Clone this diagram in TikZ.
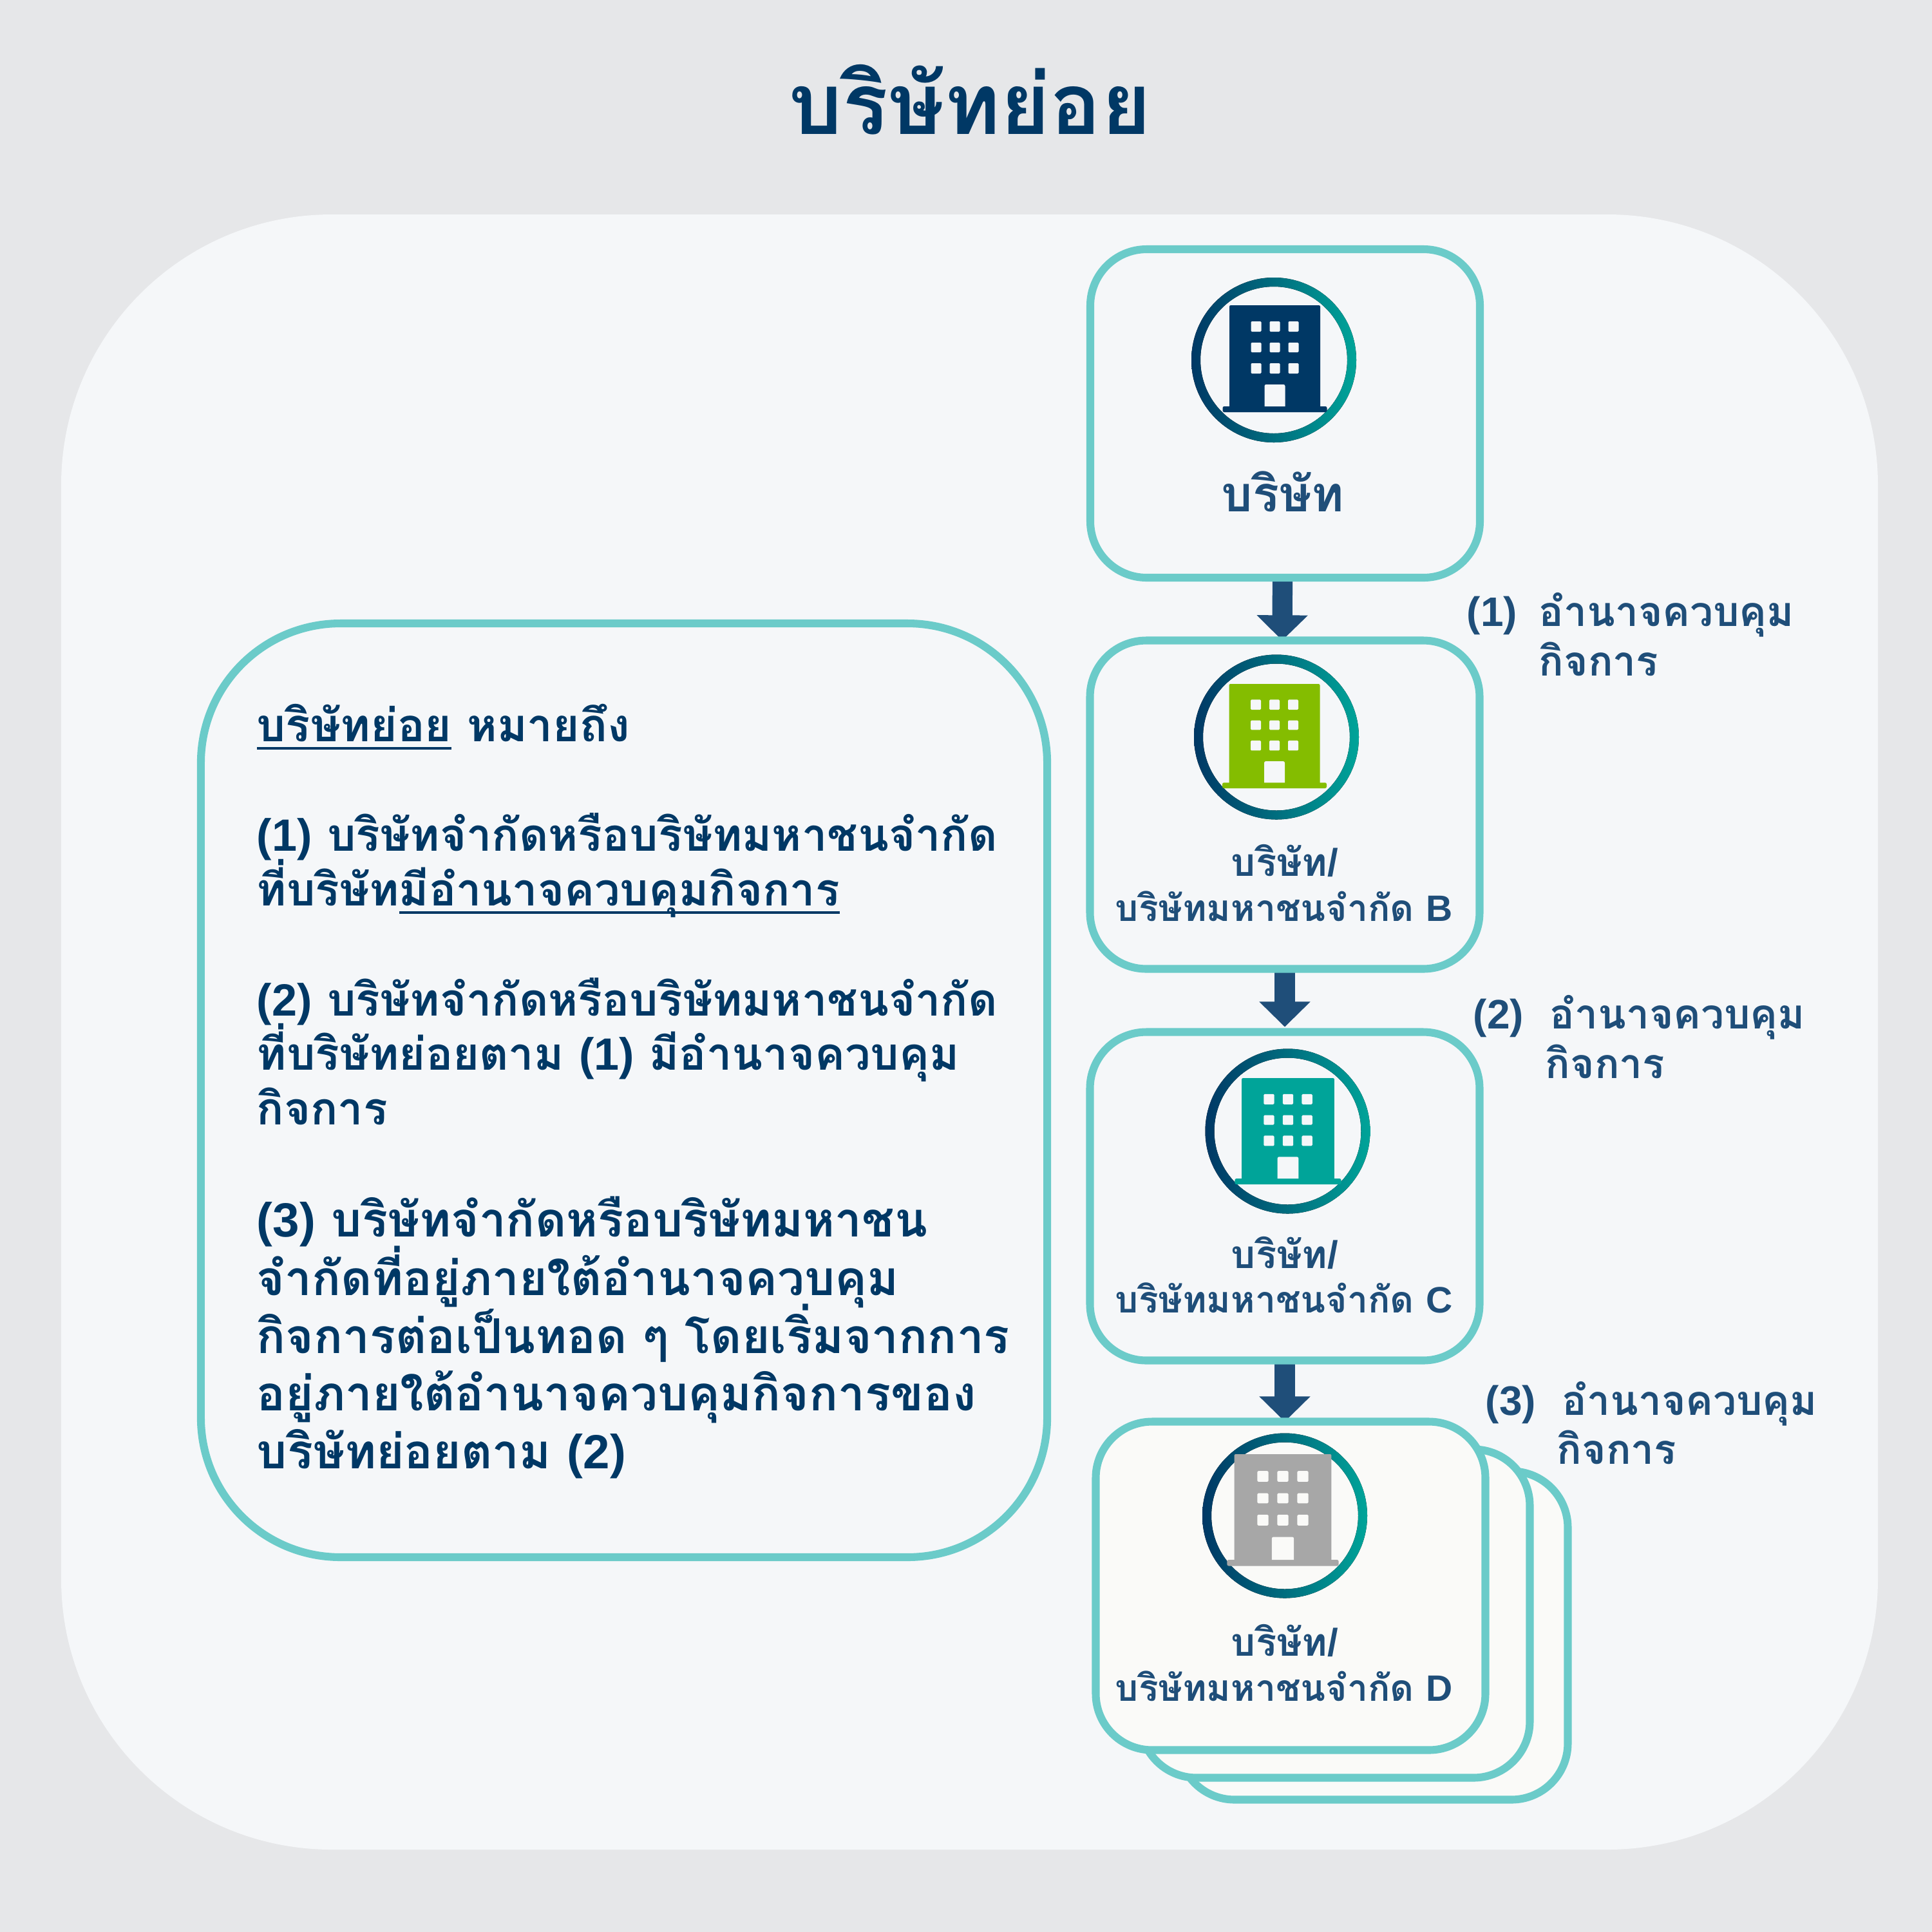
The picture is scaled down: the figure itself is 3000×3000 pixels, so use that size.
\documentclass[tikz,border=0pt]{standalone}
\usepackage{fontspec}
\usetikzlibrary{calc,arrows.meta}
\newfontfamily\thaifnt[Script=Thai]{Loma}
\newfontfamily\latfnt{Liberation Sans}
\definecolor{pagebg}{HTML}{E6E7E9}
\definecolor{panelbg}{HTML}{F5F7F9}
\definecolor{cardbg}{HTML}{FAFAF8}
\definecolor{teal}{HTML}{6BCBC9}
\definecolor{navy}{HTML}{003865}
\definecolor{labelblue}{HTML}{1F4E79}
\definecolor{ringteal}{HTML}{00A499}
\definecolor{bgreen}{HTML}{84BD00}
\definecolor{bteal}{HTML}{00A499}
\definecolor{bgrey}{HTML}{A7A7A7}
\pgfdeclarelayer{under}
\pgfsetlayers{under,main}
\newcommand{\La}[1]{{\latfnt #1}}
\newsavebox{\ulbox}
\newcommand{\ul}[1]{\sbox{\ulbox}{#1}\rlap{\rule[-3.1pt]{\wd\ulbox}{0.96pt}}\usebox{\ulbox}}
\newdimen\fsd
\newcommand{\fs}[1]{\fsd=#1pt \fsd=0.24\fsd \fontsize{\the\fsd}{\the\fsd}\selectfont}
\tikzset{
  card/.style={draw=teal,line width=2.9pt,rounded corners=21pt,fill=#1,inner sep=0pt,outer sep=0pt,
    minimum width=145.2pt,minimum height=122.4pt},
  card/.default=panelbg,
  flow/.style={draw=labelblue,line width=7.5pt,-{Triangle[length=9.4pt,width=18.5pt]}},
  body/.style={anchor=base west,inner sep=0pt,text=navy,font=\thaifnt\bfseries},
  lab/.style={anchor=base,inner sep=0pt,text=labelblue,font=\thaifnt\bfseries},
  side/.style={anchor=base west,inner sep=0pt,text=labelblue,font=\thaifnt\bfseries},
}
% #1 ring cx, #2 ring cy, #3 building cx, #4 building top y, #5 colour, #6 xscale, #7 yscale, #8 window colour
\newcommand{\tower}[8]{%
  \fill[left color=navy,right color=ringteal,even odd rule] (#1,#2) circle[radius=128] (#1,#2) circle[radius=114];
  \begin{scope}[shift={(#3,#4)},xscale=#6,yscale=#7]
    \fill[#5] (-70.5,160) [rounded corners=0.5pt] -- (-70.5,0) -- (70.5,0) [sharp corners] -- (70.5,160) -- cycle;
    \fill[#5,rounded corners=0.6pt] (-81,157) rectangle (81,166);
    \fill[#8,rounded corners=0.35pt] (-37,25) rectangle (-21,41) (-8,25) rectangle (8,41) (21,25) rectangle (37,41)
      (-37,58) rectangle (-21,73) (-8,58) rectangle (8,73) (21,58) rectangle (37,73)
      (-37,90) rectangle (-21,106) (-8,90) rectangle (8,106) (21,90) rectangle (37,106);
    \fill[#8] (-16,157) [rounded corners=0.6pt] -- (-16,123) -- (16,123) [sharp corners] -- (16,157) -- cycle;
  \end{scope}}
\begin{document}
\begin{tikzpicture}[x=0.24pt,y=-0.24pt]
\useasboundingbox (0,0) rectangle (3000,3000);
\begin{pgfonlayer}{under}
\fill[pagebg] (0,0) rectangle (3000,3000);
\fill[panelbg,rounded corners=100.8pt] (95,333) rectangle (2916,2872);
\end{pgfonlayer}
\node[lab,text=navy,font=\thaifnt\bfseries\fs{132}] (title) at (1506,208) {บริษัทย่อย};
% left definition card
\node[card,rounded corners=52pt,minimum width=315.4pt,minimum height=348pt] (defbox) at (969,1693) {};
\node[body,font=\thaifnt\bfseries\fs{71}] (d0) at (398,1151) {\ul{บริษัทย่อย} หมายถึง};
\node[body,font=\thaifnt\bfseries\fs{70.2}] (d1) at (398,1321) {\La{(1)} บริษัทจำกัดหรือบริษัทมหาชนจำกัด};
\node[body,font=\thaifnt\bfseries\fs{70.2}] (d2) at (398,1406) {ที่บริษัท\ul{มีอำนาจควบคุมกิจการ}};
\node[body,font=\thaifnt\bfseries\fs{70.2}] (d3) at (398,1577) {\La{(2)} บริษัทจำกัดหรือบริษัทมหาชนจำกัด};
\node[body,font=\thaifnt\bfseries\fs{70.2}] (d4) at (398,1661) {ที่บริษัทย่อยตาม \La{(1)} มีอำนาจควบคุม};
\node[body,font=\thaifnt\bfseries\fs{70.2}] (d5) at (398,1746) {กิจการ};
\node[body,font=\thaifnt\bfseries\fs{74.5}] (d6) at (398,1920) {\La{(3)} บริษัทจำกัดหรือบริษัทมหาชน};
\node[body,font=\thaifnt\bfseries\fs{74.5}] (d7) at (398,2011) {จำกัดที่อยู่ภายใต้อำนาจควบคุม};
\node[body,font=\thaifnt\bfseries\fs{74.5}] (d8) at (398,2101) {กิจการต่อเป็นทอด ๆ โดยเริ่มจากการ};
\node[body,font=\thaifnt\bfseries\fs{74.5}] (d9) at (398,2190) {อยู่ภายใต้อำนาจควบคุมกิจการของ};
\node[body,font=\thaifnt\bfseries\fs{74.5}] (d10) at (398,2280) {บริษัทย่อยตาม \La{(2)}};
% stacked cards
\node[card=cardbg] (d3c) at (2132,2539.5) {};
\node[card=cardbg] (d2c) at (2073,2505.5) {};
\node[card=panelbg] (a) at (1995.5,642) {};
\node[card=panelbg] (b) at (1995,1249.5) {};
\node[card=panelbg] (c) at (1995,1857.5) {};
\node[card=cardbg] (d) at (2004,2462.5) {};
% arrows
\begin{pgfonlayer}{under}
\draw[flow] ($(a.south)+(-4,0)$) -- ($(b.north)+(-4,0)$);
\draw[flow,shorten >=1.9pt] (b.south) -- (c.north);
\draw[flow] (c.south) -- ($(d.north)+(-9,0)$);
\end{pgfonlayer}
\tower{1978}{559}{1979.5}{474}{navy}{1}{1}{panelbg}
\tower{1982}{1144.5}{1979}{1062}{bgreen}{1}{0.976}{panelbg}
\tower{1999.5}{1756.5}{2000}{1674}{bteal}{1.02}{0.994}{panelbg}
\tower{1995}{2353.5}{1992}{2258}{bgrey}{1.07}{1.045}{cardbg}
% labels
\node[lab,font=\thaifnt\bfseries\fs{76.5}] (la) at (1992,794) {บริษัท};
\node[lab,font=\thaifnt\bfseries\fs{60}] (lb1) at (1995,1360) {บริษัท\La{/}};
\node[lab,font=\thaifnt\bfseries\fs{57}] (lb2) at (1994,1430) {บริษัทมหาชนจำกัด \La{B}};
\node[lab,font=\thaifnt\bfseries\fs{60}] (lc1) at (1995,1969) {บริษัท\La{/}};
\node[lab,font=\thaifnt\bfseries\fs{57}] (lc2) at (1994,2038) {บริษัทมหาชนจำกัด \La{C}};
\node[lab,font=\thaifnt\bfseries\fs{60}] (ld1) at (1995,2571) {บริษัท\La{/}};
\node[lab,font=\thaifnt\bfseries\fs{57}] (ld2) at (1994,2641) {บริษัทมหาชนจำกัด \La{D}};
% side notes
\node[side,font=\latfnt\bfseries\fs{64}] (n1a) at (2277,972) {(1)};
\node[side,font=\thaifnt\bfseries\fs{64}] (n1b) at (2389,972) {อำนาจควบคุม};
\node[side,font=\thaifnt\bfseries\fs{64}] (n1c) at (2389,1049) {กิจการ};
\node[side,font=\latfnt\bfseries\fs{64}] (n2a) at (2287,1597) {(2)};
\node[side,font=\thaifnt\bfseries\fs{64}] (n2b) at (2406,1597) {อำนาจควบคุม};
\node[side,font=\thaifnt\bfseries\fs{64}] (n2c) at (2399,1674) {กิจการ};
\node[side,font=\latfnt\bfseries\fs{64}] (n3a) at (2306,2197) {(3)};
\node[side,font=\thaifnt\bfseries\fs{64}] (n3b) at (2425,2197) {อำนาจควบคุม};
\node[side,font=\thaifnt\bfseries\fs{64}] (n3c) at (2417,2273) {กิจการ};
\end{tikzpicture}
\end{document}
